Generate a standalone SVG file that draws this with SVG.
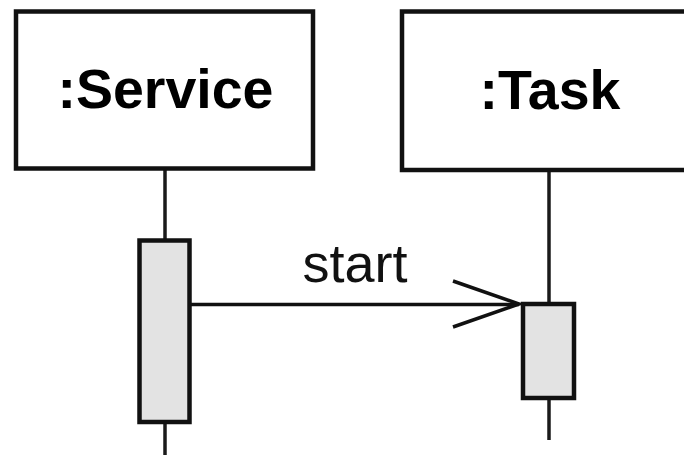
<svg xmlns="http://www.w3.org/2000/svg" width="684" height="455" viewBox="0 0 684 455">
  <style>
    .head { fill: #ffffff; stroke: #111111; stroke-width: 4.5; }
    .life { stroke: #1a1a1a; stroke-width: 3.5; fill: none; }
    .act { fill: #e3e3e3; stroke: #111111; stroke-width: 4.5; }
    .name { font-family: "Liberation Sans", Arial, sans-serif; font-weight: bold; font-size: 55.5px; fill: #000000; text-anchor: middle; }
    .msg { stroke: #111111; stroke-width: 3.5; fill: none; }
    .label { font-family: "Liberation Sans", Arial, sans-serif; font-size: 54px; fill: #111111; text-anchor: middle; }
  </style>
  <rect width="684" height="455" fill="#ffffff"/>

  <!-- left lifeline: head box, lifeline and activation bar -->
  <g id="service">
    <line class="life" x1="165" y1="168" x2="165" y2="240"/>
    <line class="life" x1="165" y1="422" x2="165" y2="455"/>
    <rect class="head" x="16" y="11.5" width="297" height="157"/>
    <text class="name" x="165.5" y="107.5">:Service</text>
    <rect class="act" x="139.5" y="240.5" width="50" height="181.5"/>
  </g>

  <!-- right lifeline: head box runs past the right edge -->
  <g id="task">
    <line class="life" x1="549" y1="170" x2="549" y2="304"/>
    <line class="life" x1="549" y1="398" x2="549" y2="440"/>
    <rect class="head" x="402" y="11.5" width="295" height="158.5"/>
    <text class="name" x="550" y="108.5">:Task</text>
    <rect class="act" x="523" y="304" width="51" height="94"/>
  </g>

  <!-- synchronous "start" call with open arrowhead -->
  <g id="connectors">
    <line class="msg" x1="190" y1="304.5" x2="519" y2="304.5"/>
    <polyline class="msg" points="453,281 519,304 453,327"/>
    <text class="label" x="355" y="282">start</text>
  </g>
</svg>
